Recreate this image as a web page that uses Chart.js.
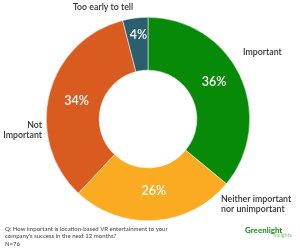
<!DOCTYPE html>
<html>
<head>
<meta charset="utf-8">
<script src="https://cdn.jsdelivr.net/npm/chart.js@4"></script>
<style>
  html, body { margin: 0; padding: 0; background: #fff; }
  #wrap { width: 300px; height: 251px; position: relative; }
</style>
</head>
<body>
<div id="wrap"><canvas id="chart"></canvas></div>
<script>
const categories = ['Important', 'Neither important nor unimportant', 'Not important', 'Too early to tell']
const values = [36, 26, 34, 4]
const colors = ['#078a07', '#fbab22', '#d95b1f', '#2b5f6e']

// nudges for the % labels, from the middle of each slice
const pctNudge = [[-2, -5], [1, -3], [1.5, 1], [0, -9]]

// labels round the ring, drawn by hand
const outsideLabels = [
  { lines: ['Important'], x: 243, y: 52, align: 'left' },
  { lines: ['Neither important', 'nor unimportant'], x: 221, y: 199, align: 'left' },
  { lines: ['Not', 'Important'], x: 42, y: 125, align: 'right' },
  { lines: ['Too early to tell'], x: 103, y: 7, align: 'center' },
]
const question = [
  'Q: How important is location-based VR entertainment to your',
  "company's success in the next 12 months?",
  'N=76',
]

const labelPlugin = {
  id: 'labels',
  afterDatasetsDraw(chart) {
    const ctx = chart.ctx
    const meta = chart.getDatasetMeta(0)
    ctx.save()
    ctx.textBaseline = 'middle'
    // percentages in the ring
    ctx.fillStyle = '#fff'
    ctx.textAlign = 'center'
    ctx.font = '600 12.5px Lato'
    meta.data.forEach((arc, i) => {
      const p = arc.getCenterPoint()
      ctx.fillText(values[i] + '%', p.x + pctNudge[i][0], p.y + pctNudge[i][1])
    })
    // category names
    ctx.fillStyle = '#333'
    ctx.font = '600 8.8px Lato'
    outsideLabels.forEach((l) => {
      ctx.textAlign = l.align
      l.lines.forEach((t, j) => ctx.fillText(t, l.x, l.y + j * 10))
    })
    // footer
    ctx.textAlign = 'left'
    ctx.fillStyle = '#444'
    ctx.font = '6px Lato'
    question.forEach((t, j) => ctx.fillText(t, 5, 229 + j * 7.3))
    // logo
    ctx.fillStyle = '#168f16'
    ctx.font = 'bold 8px Lato'
    ctx.textAlign = 'left'
    ctx.fillText('Greenlight', 245, 230)
    ctx.fillStyle = '#80c880'
    ctx.font = '5.5px Lato'
    ctx.textAlign = 'right'
    ctx.fillText('insights', 292, 235.5)
    ctx.restore()
  },
}

new Chart(document.getElementById('chart'), {
  type: 'doughnut',
  data: {
    labels: categories,
    datasets: [
      {
        data: values,
        backgroundColor: colors,
        borderColor: '#fff',
        borderWidth: 0.5,
      },
    ],
  },
  options: {
    responsive: true,
    maintainAspectRatio: false,
    animation: false,
    cutout: '48%',
    layout: { padding: { top: 17, bottom: 30, left: 45, right: 49 } },
    plugins: {
      legend: { display: false },
      tooltip: { enabled: false },
    },
  },
  plugins: [labelPlugin],
})
</script>
</body>
</html>
